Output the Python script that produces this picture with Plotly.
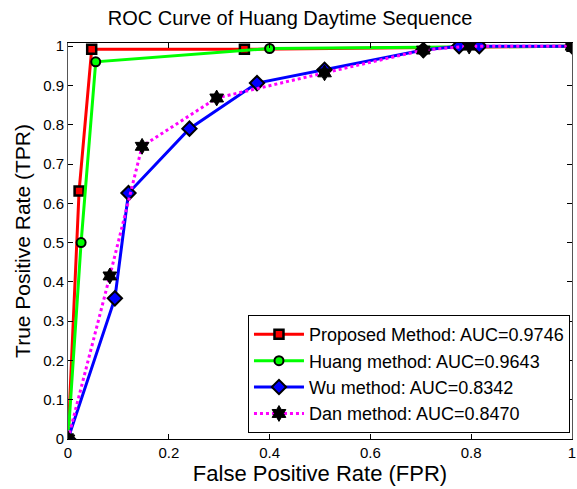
import plotly.graph_objects as go

# Data
prop_fpr = [0.0, 0.022, 0.047, 0.350, 1.0]
prop_tpr = [0.0, 0.631, 0.992, 0.992, 1.0]

huang_fpr = [0.0, 0.026, 0.055, 0.400, 1.0]
huang_tpr = [0.0, 0.500, 0.960, 0.994, 1.0]

wu_fpr = [0.0, 0.093, 0.120, 0.241, 0.375, 0.509, 0.705, 0.776, 0.816, 1.0]
wu_tpr = [0.0, 0.358, 0.626, 0.790, 0.906, 0.940, 0.990, 1.0, 1.0, 1.0]

dan_fpr = [0.0, 0.083, 0.147, 0.295, 0.509, 0.705, 0.796, 1.0]
dan_tpr = [0.0, 0.415, 0.745, 0.868, 0.932, 0.990, 1.0, 1.0]

names = ["Proposed Method: AUC=0.9746", "Huang method: AUC=0.9643",
         "Wu method: AUC=0.8342", "Dan method: AUC=0.8470"]

x_ticks = [0, 0.2, 0.4, 0.6, 0.8, 1]
x_tick_labels = ["0", "0.2", "0.4", "0.6", "0.8", "1"]
y_ticks = [0, 0.1, 0.2, 0.3, 0.4, 0.5, 0.6, 0.7, 0.8, 0.9, 1]
y_tick_labels = ["0", "0.1", "0.2", "0.3", "0.4", "0.5", "0.6", "0.7", "0.8", "0.9", "1"]

FONT = "Liberation Sans, Arial, sans-serif"

fig = go.Figure()
fig.add_trace(go.Scatter(
    x=prop_fpr, y=prop_tpr, name=names[0], mode="lines+markers",
    line=dict(color="#ff0000", width=3),
    marker=dict(symbol="square", size=9, color="#ff0000",
                line=dict(color="black", width=2.5))))
fig.add_trace(go.Scatter(
    x=huang_fpr, y=huang_tpr, name=names[1], mode="lines+markers",
    line=dict(color="#00ff00", width=3),
    marker=dict(symbol="circle", size=9, color="#00ff00",
                line=dict(color="black", width=2))))
fig.add_trace(go.Scatter(
    x=wu_fpr, y=wu_tpr, name=names[2], mode="lines+markers",
    line=dict(color="#0000ff", width=3),
    marker=dict(symbol="diamond", size=11, color="#0000ff",
                line=dict(color="black", width=2))))
fig.add_trace(go.Scatter(
    x=dan_fpr, y=dan_tpr, name=names[3], mode="lines+markers",
    line=dict(color="#ff00ff", width=3, dash="dot"),
    marker=dict(symbol="hexagram", size=12, color="black",
                line=dict(color="black", width=1))))

fig.update_layout(
    width=577, height=489,
    margin=dict(l=68, r=5, t=43, b=50, autoexpand=False),
    paper_bgcolor="white", plot_bgcolor="white",
    font=dict(family=FONT, color="black", size=14),
    title=dict(text="ROC Curve of Huang Daytime Sequence",
               x=290 / 577, xanchor="center", y=1 - 18 / 489, yanchor="middle",
               font=dict(size=20, family=FONT, color="black")),
    showlegend=True,
    legend=dict(x=0.996, y=0.015, xanchor="right", yanchor="bottom",
                bgcolor="white", bordercolor="black", borderwidth=1,
                font=dict(size=18, family=FONT, color="black"),
                itemwidth=50, tracegroupgap=0,
                traceorder="normal"),
)
fig.update_xaxes(
    range=[0, 1], tickvals=x_ticks, ticktext=x_tick_labels,
    ticks="inside", ticklen=5, tickcolor="black",
    showline=True, linecolor="black", linewidth=1, mirror="ticks",
    showgrid=False, zeroline=False, automargin=False,
    ticklabeloverflow="allow",
    tickfont=dict(size=15),
    title=dict(text="False Positive Rate (FPR)", font=dict(size=22), standoff=3))
fig.update_yaxes(
    range=[0, 1.008], tickvals=y_ticks, ticktext=y_tick_labels,
    ticks="inside", ticklen=5, tickcolor="black",
    showline=True, linecolor="#555", linewidth=1, mirror="ticks",
    showgrid=False, zeroline=False, automargin=False,
    ticklabeloverflow="allow",
    tickfont=dict(size=15),
    title=dict(text="True Positive Rate (TPR)", font=dict(size=21), standoff=6))

fig.write_html("out.html",
               config={"displayModeBar": False},
               post_script="document.body.style.margin='0';document.body.style.overflow='hidden';")
